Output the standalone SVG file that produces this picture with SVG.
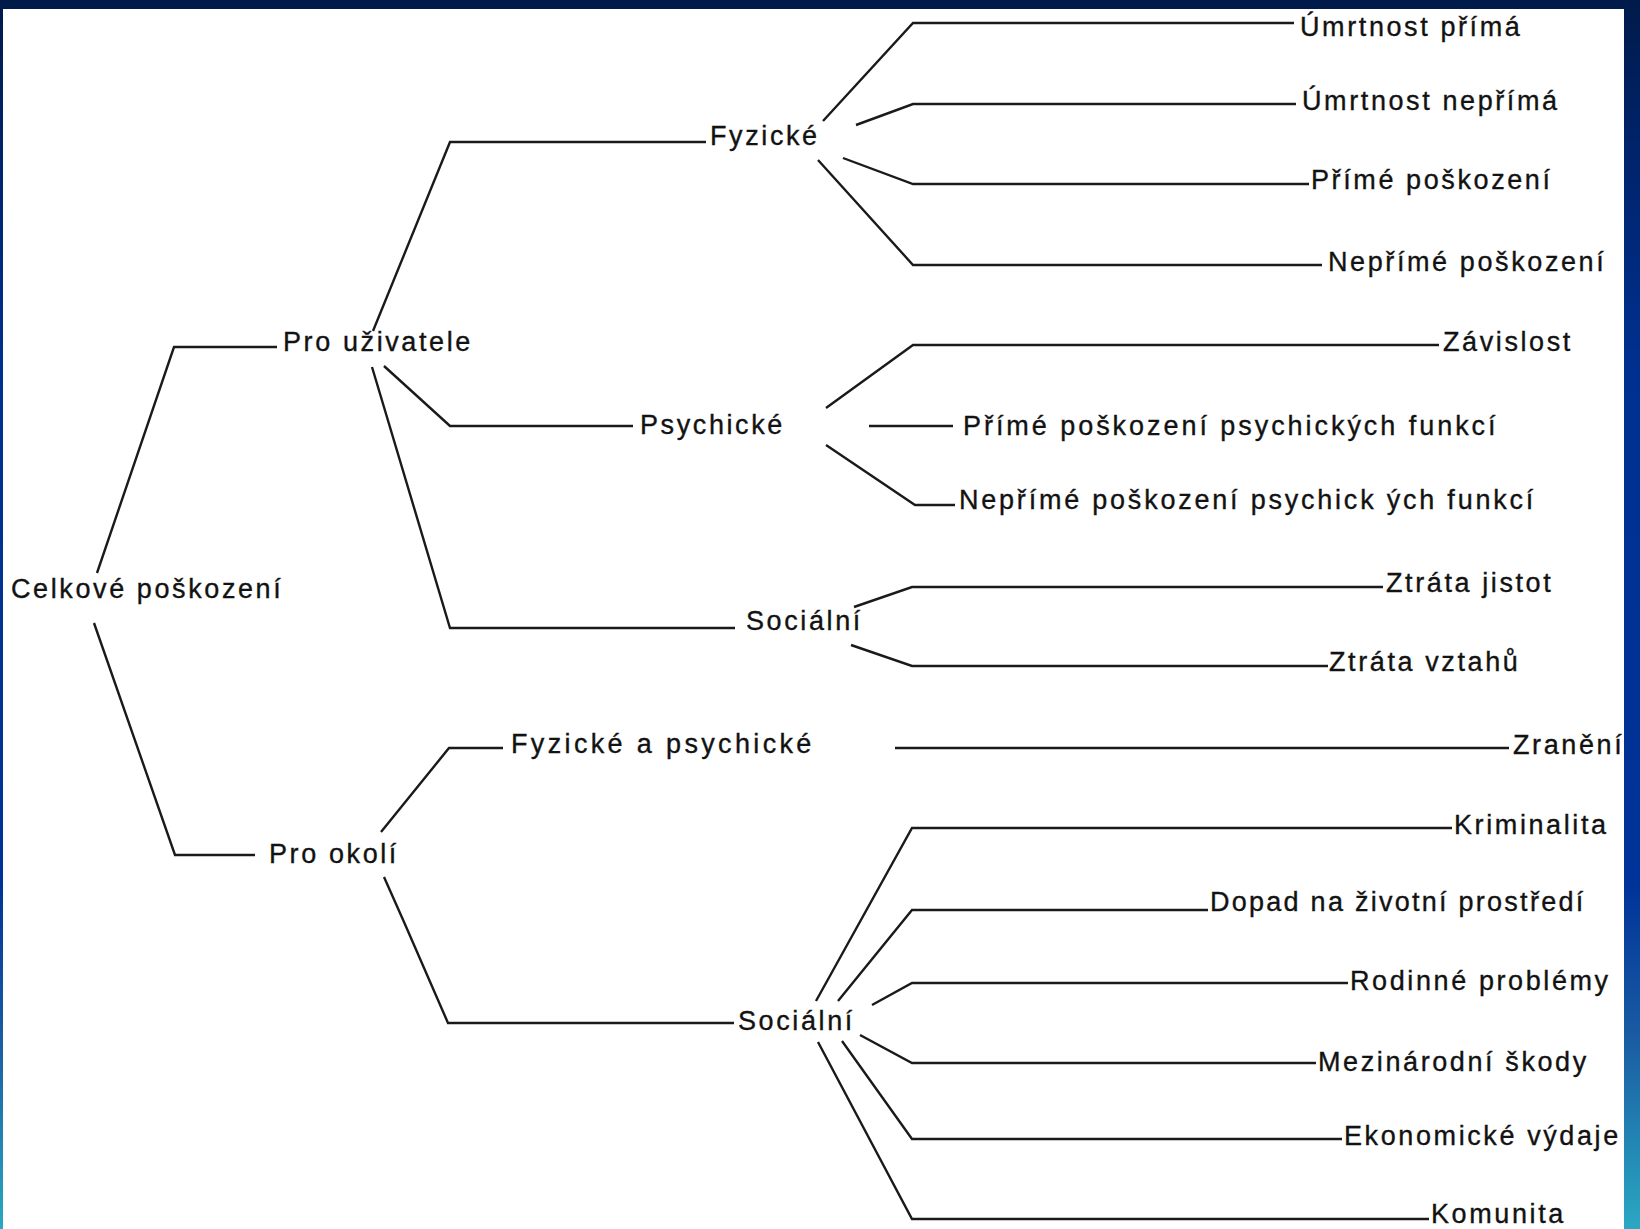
<svg xmlns="http://www.w3.org/2000/svg" width="1640" height="1229" viewBox="0 0 1640 1229">
  <defs>
    <linearGradient id="frame" x1="0" y1="0" x2="0" y2="1">
      <stop offset="0" stop-color="#001a4a"/>
      <stop offset="0.12" stop-color="#00236a"/>
      <stop offset="0.3" stop-color="#00308f"/>
      <stop offset="0.72" stop-color="#003399"/>
      <stop offset="0.85" stop-color="#1a5ea3"/>
      <stop offset="1" stop-color="#2aa8c2"/>
    </linearGradient>
    <style>
      .c { fill: none; stroke: #1a1a1a; stroke-width: 2.4; stroke-linejoin: miter; }
      .t { font-family: "Liberation Sans", Arial, sans-serif; font-size: 27px; letter-spacing: 2.6px; fill: #121212; stroke: #121212; stroke-width: 0.35px; }
    </style>
  </defs>

  <rect x="0" y="0" width="1640" height="1229" fill="url(#frame)"/>
  <rect x="0" y="0" width="1640" height="9" fill="#001a4a"/>
  <rect x="3" y="9" width="1621" height="1220" fill="#ffffff"/>

  <g id="connectors">
    <polyline class="c" points="97,573 174,347 277,347"/>
    <polyline class="c" points="94,623 175,855 255,855"/>
    <polyline class="c" points="373,331 450,142 706,142"/>
    <polyline class="c" points="384,366 450,426 633,426"/>
    <polyline class="c" points="372,367 450,628 735,628"/>
    <polyline class="c" points="823,121 913,23 1294,23"/>
    <polyline class="c" points="856,125 913,104 1296,104"/>
    <polyline class="c" points="843,158 913,184 1309,184"/>
    <polyline class="c" points="818,160 913,265 1322,265"/>
    <polyline class="c" points="826,408 913,345 1439,345"/>
    <polyline class="c" points="869,426 953,426"/>
    <polyline class="c" points="826,445 915,505 955,505"/>
    <polyline class="c" points="854,607 912,587 1383,587"/>
    <polyline class="c" points="851,645 912,666 1328,666"/>
    <polyline class="c" points="381,832 449,748 503,748"/>
    <polyline class="c" points="384,877 404,922 448,1023 734,1023"/>
    <polyline class="c" points="895,748 1509,748"/>
    <polyline class="c" points="816,1001 912,828 1452,828"/>
    <polyline class="c" points="838,1001 912,910 1208,910"/>
    <polyline class="c" points="872,1005 912,983 1348,983"/>
    <polyline class="c" points="860,1035 912,1063 1316,1063"/>
    <polyline class="c" points="842,1041 912,1139 1342,1139"/>
    <polyline class="c" points="818,1042 912,1219 1429,1219"/>
  </g>

  <g id="n-celkove"><text class="t" x="11" y="598">Celkové poškození</text></g>
  <g id="n-pro-uzivatele"><text class="t" x="283" y="351">Pro uživatele</text></g>
  <g id="n-pro-okoli"><text class="t" x="269" y="863">Pro okolí</text></g>
  <g id="n-fyzicke"><text class="t" x="710" y="145">Fyzické</text></g>
  <g id="n-psychicke"><text class="t" x="640" y="434">Psychické</text></g>
  <g id="n-socialni-1"><text class="t" x="746" y="630">Sociální</text></g>
  <g id="n-fyz-psych"><text class="t" x="511" y="753" style="letter-spacing:3.35px">Fyzické a psychické</text></g>
  <g id="n-socialni-2"><text class="t" x="738" y="1030">Sociální</text></g>
  <g id="n-umrtnost-prima"><text class="t" x="1300" y="36">Úmrtnost přímá</text></g>
  <g id="n-umrtnost-neprima"><text class="t" x="1302" y="110">Úmrtnost nepřímá</text></g>
  <g id="n-prime-poskozeni"><text class="t" x="1311" y="189">Přímé poškození</text></g>
  <g id="n-neprime-poskozeni"><text class="t" x="1328" y="271">Nepřímé poškození</text></g>
  <g id="n-zavislost"><text class="t" x="1443" y="351">Závislost</text></g>
  <g id="n-prime-psych"><text class="t" x="963" y="435" style="letter-spacing:2.95px">Přímé poškození psychických funkcí</text></g>
  <g id="n-neprime-psych"><text class="t" x="959" y="509" style="letter-spacing:2.78px">Nepřímé poškození psychick ých funkcí</text></g>
  <g id="n-ztrata-jistot"><text class="t" x="1386" y="592">Ztráta jistot</text></g>
  <g id="n-ztrata-vztahu"><text class="t" x="1329" y="671">Ztráta vztahů</text></g>
  <g id="n-zraneni"><text class="t" x="1513" y="754">Zranění</text></g>
  <g id="n-kriminalita"><text class="t" x="1454" y="834">Kriminalita</text></g>
  <g id="n-dopad"><text class="t" x="1210" y="911" style="letter-spacing:2.26px">Dopad na životní prostředí</text></g>
  <g id="n-rodinne"><text class="t" x="1350" y="990">Rodinné problémy</text></g>
  <g id="n-mezinarodni"><text class="t" x="1318" y="1071">Mezinárodní škody</text></g>
  <g id="n-ekonomicke"><text class="t" x="1344" y="1145">Ekonomické výdaje</text></g>
  <g id="n-komunita"><text class="t" x="1431" y="1223">Komunita</text></g>
</svg>
